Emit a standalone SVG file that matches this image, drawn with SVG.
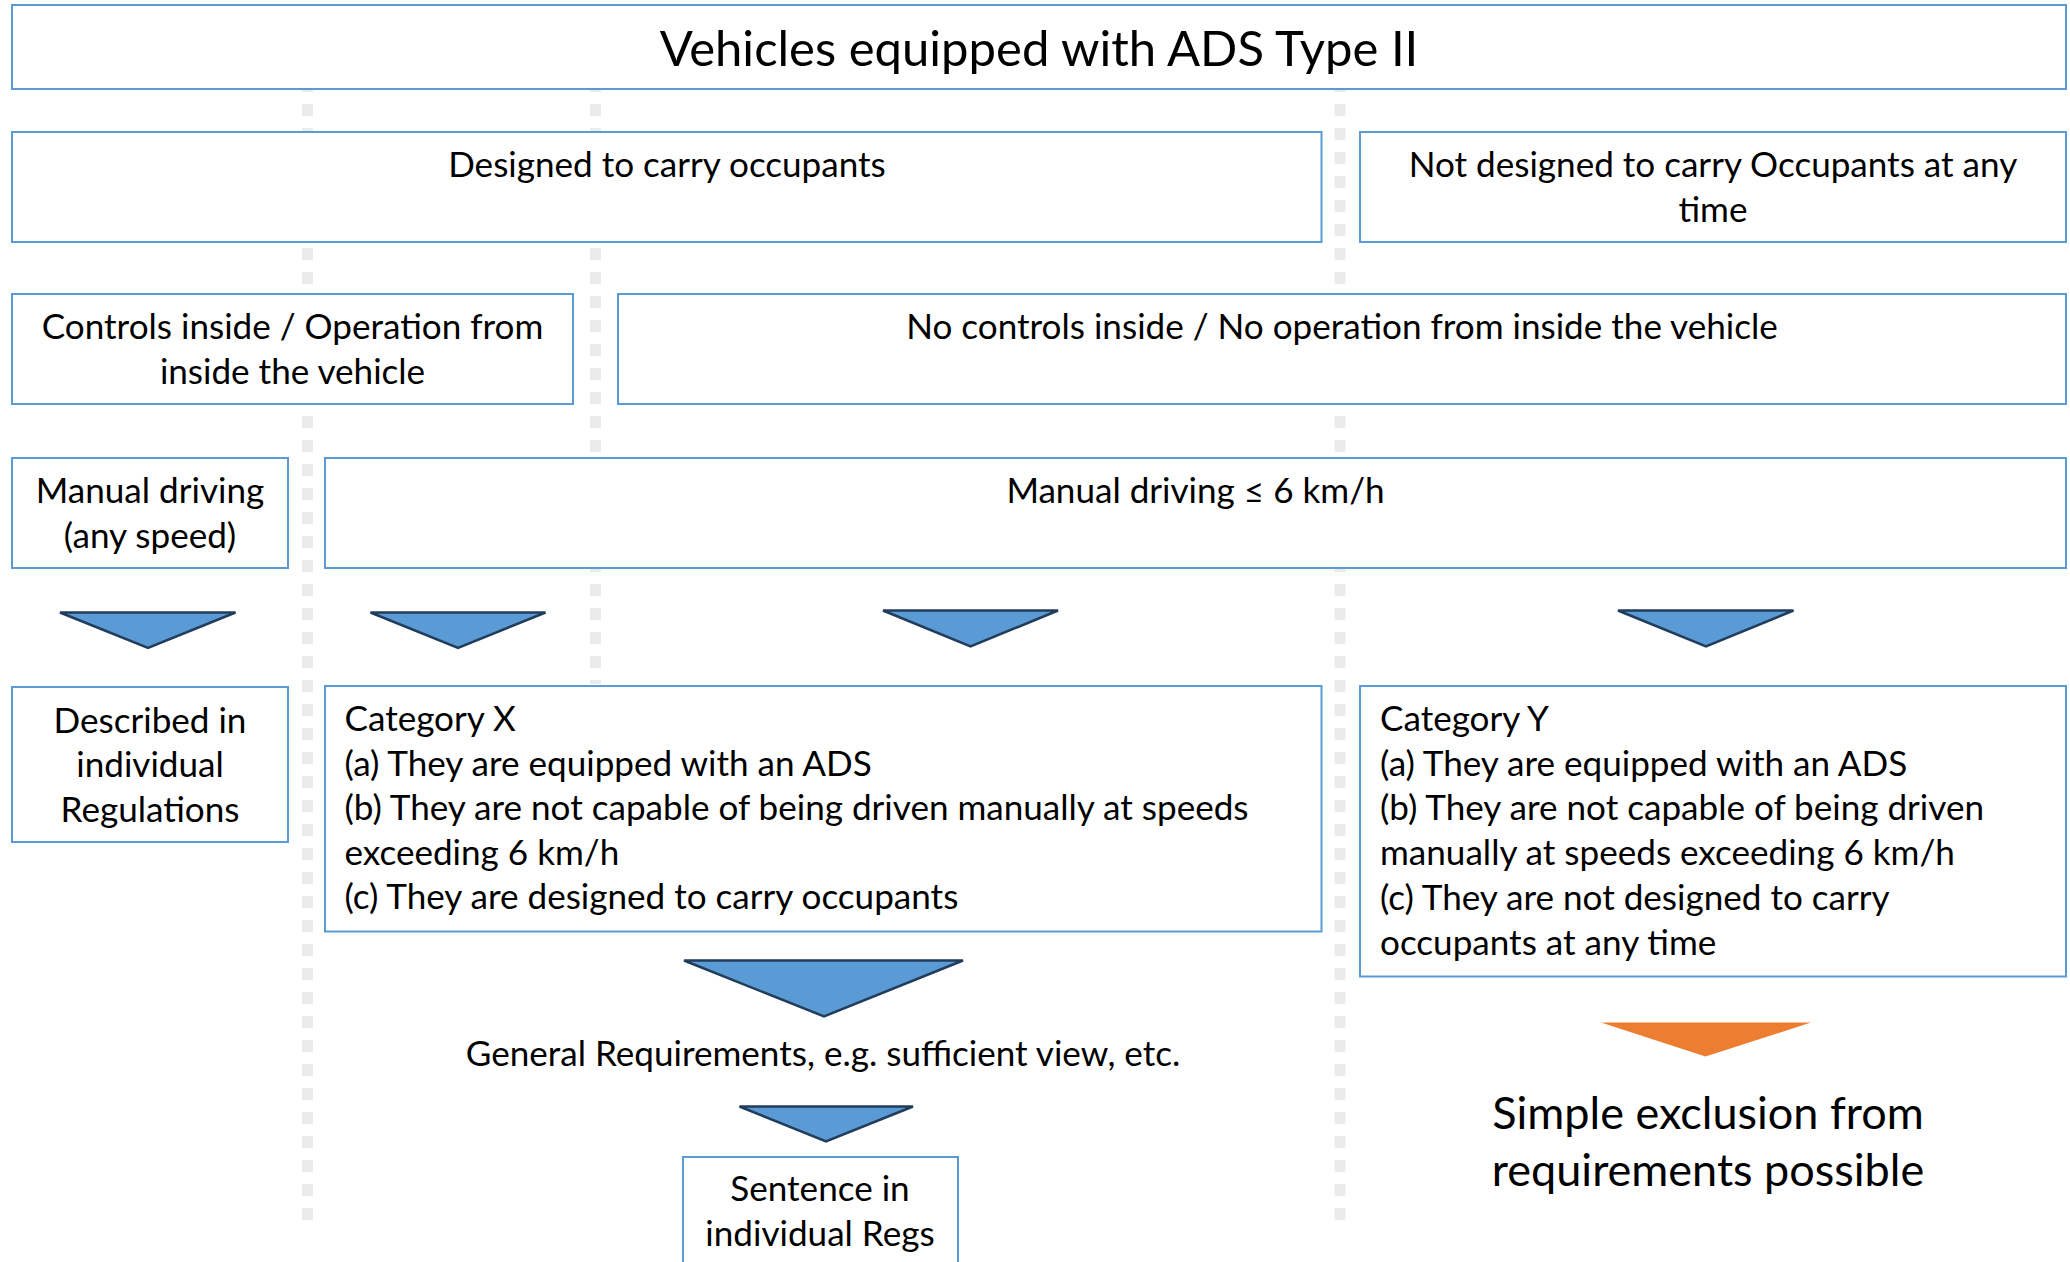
<svg xmlns="http://www.w3.org/2000/svg" width="2070" height="1262" viewBox="0 0 2070 1262">
  <style>
    .box { fill: #ffffff; stroke: #5b9bd5; stroke-width: 2; }
    .guide { stroke: #ebebeb; stroke-width: 11; stroke-dasharray: 12 12; fill: none; }
    .tri { fill: #5b9bd5; stroke: #223d5c; stroke-width: 2.5; stroke-linejoin: miter; }
    .tri-o { fill: #ed7d31; stroke: none; }
    text { font-family: Lato, "Open Sans", "Liberation Sans", sans-serif; fill: #000000; }
    .t { font-size: 35.1px; }
    .c { text-anchor: middle; }
    .title { font-size: 49px; text-anchor: middle; }
    .big { font-size: 45px; text-anchor: middle; }
  </style>

  <rect width="2070" height="1262" fill="#ffffff"/>

  <!-- dotted column guides, drawn under the boxes -->
  <g id="guides">
    <line class="guide" x1="307.5" y1="80" x2="307.5" y2="1220"/>
    <line class="guide" x1="595.5" y1="80" x2="595.5" y2="684"/>
    <line class="guide" x1="1340" y1="80" x2="1340" y2="1220"/>
  </g>

  <g id="node-root">
    <rect class="box" x="12" y="5" width="2054" height="84"/>
    <text class="title" x="1039" y="66">Vehicles equipped with ADS Type II</text>
  </g>

  <g id="node-occupants">
    <rect class="box" x="12" y="132" width="1309.5" height="110"/>
    <text class="t c" x="667" y="177">Designed to carry occupants</text>
  </g>

  <g id="node-no-occupants">
    <rect class="box" x="1360" y="132" width="706" height="110"/>
    <text class="t c" x="1713" y="177">Not designed to carry Occupants at any</text>
    <text class="t c" x="1713" y="222">time</text>
  </g>

  <g id="node-controls">
    <rect class="box" x="12" y="294" width="561" height="110"/>
    <text class="t c" x="292.5" y="339">Controls inside / Operation from</text>
    <text class="t c" x="292.5" y="384">inside the vehicle</text>
  </g>

  <g id="node-no-controls">
    <rect class="box" x="618" y="294" width="1448" height="110"/>
    <text class="t c" x="1342" y="339">No controls inside / No operation from inside the vehicle</text>
  </g>

  <g id="node-manual-any">
    <rect class="box" x="12" y="458" width="276" height="110"/>
    <text class="t c" x="150" y="503">Manual driving</text>
    <text class="t c" x="150" y="548">(any speed)</text>
  </g>

  <g id="node-manual-6">
    <rect class="box" x="325" y="458" width="1741" height="110"/>
    <text class="t c" x="1195.5" y="503">Manual driving ≤ 6 km/h</text>
  </g>

  <g id="node-described">
    <rect class="box" x="12" y="687" width="276" height="155"/>
    <text class="t c" x="150" y="733">Described in</text>
    <text class="t c" x="150" y="777">individual</text>
    <text class="t c" x="150" y="822">Regulations</text>
  </g>

  <g id="node-category-x">
    <rect class="box" x="325" y="686" width="996.5" height="245.5"/>
    <text class="t" x="344.5" y="731">Category X</text>
    <text class="t" x="344.5" y="775.5">(a) They are equipped with an ADS</text>
    <text class="t" x="344.5" y="820">(b) They are not capable of being driven manually at speeds</text>
    <text class="t" x="344.5" y="864.5">exceeding 6 km/h</text>
    <text class="t" x="344.5" y="909">(c) They are designed to carry occupants</text>
  </g>

  <g id="node-category-y">
    <rect class="box" x="1360" y="686" width="706" height="290.5"/>
    <text class="t" x="1380" y="731">Category Y</text>
    <text class="t" x="1380" y="776">(a) They are equipped with an ADS</text>
    <text class="t" x="1380" y="820">(b) They are not capable of being driven</text>
    <text class="t" x="1380" y="865">manually at speeds exceeding 6 km/h</text>
    <text class="t" x="1380" y="910">(c) They are not designed to carry</text>
    <text class="t" x="1380" y="955">occupants at any time</text>
  </g>

  <g id="node-general">
    <text class="t c" x="823" y="1066">General Requirements, e.g. sufficient view, etc.</text>
  </g>

  <g id="node-sentence">
    <rect class="box" x="683" y="1157" width="275" height="120"/>
    <text class="t c" x="820" y="1201">Sentence in</text>
    <text class="t c" x="820" y="1246">individual Regs</text>
  </g>

  <g id="node-exclusion">
    <text class="big" x="1708" y="1129">Simple exclusion from</text>
    <text class="big" x="1708" y="1186">requirements possible</text>
  </g>

  <!-- downward arrows between levels -->
  <g id="connectors">
    <polygon class="tri" points="60,612.5 235.5,612.5 148,648"/>
    <polygon class="tri" points="370.5,612.5 545.5,612.5 458,648"/>
    <polygon class="tri" points="883,610.5 1058,610.5 970.5,646.5"/>
    <polygon class="tri" points="1618,610.5 1793.5,610.5 1706,646.5"/>
    <polygon class="tri" points="684,960.5 963,960.5 824,1016.5"/>
    <polygon class="tri" points="739.5,1106.5 913,1106.5 826,1141.5"/>
    <polygon class="tri-o" points="1601,1022.5 1811,1022.5 1705.5,1056.5"/>
  </g>
</svg>
